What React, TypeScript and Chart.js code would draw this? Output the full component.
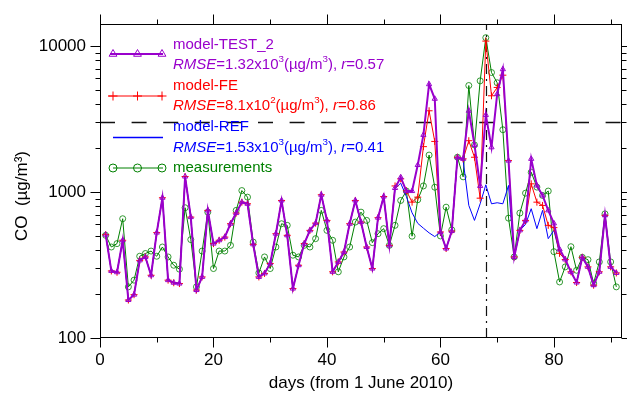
import React, { useEffect, useRef } from 'react';
import { Chart, registerables } from 'chart.js';

Chart.register(...registerables);

const days = [
  1, 2, 3, 4, 5, 6, 7, 8, 9, 10, 11, 12, 13, 14, 15, 16, 17, 18, 19, 20,
  21, 22, 23, 24, 25, 26, 27, 28, 29, 30, 31, 32, 33, 34, 35, 36, 37, 38, 39, 40,
  41, 42, 43, 44, 45, 46, 47, 48, 49, 50, 51, 52, 53, 54, 55, 56, 57, 58, 59, 60,
  61, 62, 63, 64, 65, 66, 67, 68, 69, 70, 71, 72, 73, 74, 75, 76, 77, 78, 79, 80,
  81, 82, 83, 84, 85, 86, 87, 88, 89, 90, 91,
];

const modelTest2 = [
  510, 288, 282, 467, 182, 198, 340, 359, 269, 527,
  913, 249, 239, 236, 1276, 673, 213, 262, 748, 443,
  467, 491, 606, 717, 852, 830, 438, 262, 277, 324,
  518, 875, 505, 218, 315, 443, 546, 612, 957, 639,
  284, 332, 388, 606, 875, 622, 420, 299, 667, 931,
  431, 1065, 1262, 1015, 1015, 1530, 2460, 5470, 4350, 532,
  410, 540, 1730, 1686, 3600, 2100, 1100, 3370, 2023, 4680,
  6930, 1640, 359, 546, 639, 1686, 1108, 947, 748, 610,
  405, 345, 284, 240, 357, 307, 230, 284, 692, 307,
  279,
];

const modelFE = [
  510, 288, 282, 467, 182, 198, 340, 359, 269, 527,
  913, 249, 239, 236, 1276, 673, 213, 262, 748, 443,
  467, 491, 606, 717, 852, 830, 438, 262, 277, 324,
  518, 875, 505, 218, 315, 443, 546, 612, 957, 639,
  284, 332, 388, 606, 875, 622, 420, 299, 667, 931,
  431, 1100, 1230, 1020, 852, 922, 2045, 3600, 2220, 532,
  410, 540, 1730, 1686, 2245, 1730, 907, 10800, 4560, 5200,
  6310, 1640, 359, 546, 639, 1137, 852, 809, 591, 570,
  380, 345, 284, 240, 357, 307, 230, 284, 692, 307,
  279,
];

const modelREF = [
  510, 288, 282, 467, 182, 198, 340, 359, 269, 527,
  913, 249, 239, 236, 1276, 673, 213, 262, 748, 443,
  467, 491, 606, 717, 852, 830, 438, 262, 277, 324,
  518, 875, 505, 218, 315, 443, 546, 612, 957, 639,
  284, 332, 388, 606, 875, 622, 420, 299, 667, 931,
  431, 1052, 1150, 930, 720, 610, 565, 525, 495, 532,
  410, 540, 1730, 1650, 809, 639, 830, 1120, 830, 844,
  830, 1108, 359, 546, 600, 768, 561, 748, 479, 546,
  379, 345, 284, 240, 357, 307, 230, 284, 692, 307,
  279,
];

const measurements = [
  505, 420, 443, 656, 224, 249, 363, 379, 394, 363,
  420, 359, 315, 296, 780, 472, 224, 394, 728, 299,
  394, 394, 431, 748, 1023, 922, 454, 279, 359, 299,
  420, 606, 591, 369, 359, 431, 420, 479, 748, 546,
  467, 284, 359, 420, 622, 728, 639, 450, 518, 561,
  431, 591, 875, 1015, 498, 885, 1100, 1790, 1078, 500,
  787, 550, 1730, 1270, 5360, 2100, 5770, 11400, 6580, 5600,
  2670, 662, 359, 717, 982, 1365, 1080, 947, 1015, 390,
  242, 307, 422, 291, 357, 344, 237, 332, 708, 332,
  224,
];

const xTickValues = [0, 20, 40, 60, 80];
const xMinorTickValues = [10, 30, 50, 70, 90];
const yTickValues = [100, 1000, 10000];
const yMinorMultipliers = [2, 3, 4, 5, 6, 7, 8, 9];
const thresholdValue = 3000;
const markerDay = 68;
const yAxisTitle = 'CO  (µg/m³)';
const xAxisTitle = 'days (from 1 June 2010)';

const PURPLE = '#9900CC';
const RED = '#FF0000';
const BLUE = '#0000FF';
const GREEN = '#008000';
const FONT = 'Arial, "Liberation Sans", sans-serif';

type Seg = { t: string; it?: boolean; sup?: boolean };

const legendEntries: { color: string; name: string; stats: Seg[]; marker: string }[] = [
  {
    color: PURPLE,
    name: 'model-TEST_2',
    marker: 'triangle',
    stats: [
      { t: 'RMSE', it: true }, { t: '=1.32x10' }, { t: '3', sup: true }, { t: '(µg/m' },
      { t: '3', sup: true }, { t: '), ' }, { t: 'r', it: true }, { t: '=0.57' },
    ],
  },
  {
    color: RED,
    name: 'model-FE',
    marker: 'cross',
    stats: [
      { t: 'RMSE', it: true }, { t: '=8.1x10' }, { t: '2', sup: true }, { t: '(µg/m' },
      { t: '3', sup: true }, { t: '), ' }, { t: 'r', it: true }, { t: '=0.86' },
    ],
  },
  {
    color: BLUE,
    name: 'model-REF',
    marker: 'none',
    stats: [
      { t: 'RMSE', it: true }, { t: '=1.53x10' }, { t: '3', sup: true }, { t: '(µg/m' },
      { t: '3', sup: true }, { t: '), ' }, { t: 'r', it: true }, { t: '=0.41' },
    ],
  },
  { color: GREEN, name: 'measurements', marker: 'circle', stats: [] },
];

function drawMarker(ctx: CanvasRenderingContext2D, kind: string, x: number, y: number, r: number) {
  ctx.beginPath();
  if (kind === 'triangle') {
    ctx.moveTo(x, y - r);
    ctx.lineTo(x + r * 0.866, y + r * 0.5);
    ctx.lineTo(x - r * 0.866, y + r * 0.5);
    ctx.closePath();
  } else if (kind === 'cross') {
    ctx.moveTo(x - r, y);
    ctx.lineTo(x + r, y);
    ctx.moveTo(x, y - r);
    ctx.lineTo(x, y + r);
  } else if (kind === 'circle') {
    ctx.arc(x, y, r, 0, Math.PI * 2);
  }
  ctx.stroke();
}

function drawRich(ctx: CanvasRenderingContext2D, segs: Seg[], x: number, y: number, size: number) {
  let cx = x;
  for (const s of segs) {
    const fs = s.sup ? size * 0.65 : size;
    ctx.font = `${s.it ? 'italic ' : ''}${fs}px ${FONT}`;
    const dy = s.sup ? -size * 0.35 : 0;
    ctx.fillText(s.t, cx, y + dy);
    cx += ctx.measureText(s.t).width;
  }
}

const decorPlugin = {
  id: 'decor',
  beforeDatasetsDraw(chart: any) {
    const { ctx, chartArea, scales } = chart;
    const { left, right, top, bottom } = chartArea;
    ctx.save();
    ctx.strokeStyle = '#111';
    ctx.lineWidth = 1.3;
    ctx.setLineDash([15, 16.6]);
    const yy = Math.round(scales.y.getPixelForValue(thresholdValue)) + 0.5;
    ctx.beginPath();
    ctx.moveTo(left, yy);
    ctx.lineTo(right, yy);
    ctx.stroke();
    ctx.setLineDash([10, 5, 2, 5]);
    ctx.lineWidth = 1.2;
    const xx = Math.round(scales.x.getPixelForValue(markerDay)) + 0.5;
    ctx.beginPath();
    ctx.moveTo(xx, bottom);
    ctx.lineTo(xx, top);
    ctx.stroke();
    ctx.restore();
  },
  afterDraw(chart: any) {
    const { ctx, chartArea, scales } = chart;
    const L = Math.round(chartArea.left) + 0.5;
    const R = Math.round(chartArea.right) - 0.5;
    const T = Math.round(chartArea.top) + 0.5;
    const B = Math.round(chartArea.bottom) - 0.5;
    ctx.save();
    ctx.strokeStyle = '#000';
    ctx.lineWidth = 1;
    ctx.setLineDash([]);
    ctx.strokeRect(L, T, R - L, B - T);
    ctx.beginPath();
    for (const dec of yTickValues) {
      const py = Math.round(scales.y.getPixelForValue(dec)) + 0.5;
      ctx.moveTo(L - 10, py); ctx.lineTo(L, py);
      ctx.moveTo(R, py); ctx.lineTo(R + 10, py);
      for (const m of yMinorMultipliers) {
        const v = dec * m;
        if (v > scales.y.max) continue;
        const p = Math.round(scales.y.getPixelForValue(v)) + 0.5;
        ctx.moveTo(L - 5, p); ctx.lineTo(L, p);
        ctx.moveTo(R, p); ctx.lineTo(R + 5, p);
      }
    }
    for (const v of xTickValues) {
      const px = Math.round(scales.x.getPixelForValue(v)) + 0.5;
      ctx.moveTo(px, B); ctx.lineTo(px, B + 10);
      ctx.moveTo(px, T); ctx.lineTo(px, T - 10);
    }
    for (const v of xMinorTickValues) {
      const px = Math.round(scales.x.getPixelForValue(v)) + 0.5;
      ctx.moveTo(px, B); ctx.lineTo(px, B + 5);
      ctx.moveTo(px, T); ctx.lineTo(px, T - 5);
    }
    ctx.stroke();

    // y axis title
    ctx.save();
    ctx.fillStyle = '#000';
    ctx.font = `17px ${FONT}`;
    ctx.textAlign = 'center';
    ctx.textBaseline = 'middle';
    ctx.translate(22, 196);
    ctx.rotate(-Math.PI / 2);
    ctx.fillText(yAxisTitle, 0, 0);
    ctx.restore();

    // legend
    const lineYs = [54, 96, 137.5, 168];
    const nameYs = [45, 86, 127, 168];
    const statYs = [65, 106, 148];
    const tx = 173;
    const size = 15;
    legendEntries.forEach((e, i) => {
      ctx.strokeStyle = e.color;
      ctx.fillStyle = e.color;
      ctx.lineWidth = i === 0 ? 2 : i === 2 ? 1.5 : 1;
      const ly = lineYs[i];
      const x0 = i === 1 ? 108 : i === 0 ? 110 : 113;
      ctx.beginPath();
      ctx.moveTo(x0, ly);
      ctx.lineTo(163, ly);
      ctx.stroke();
      ctx.lineWidth = 1;
      if (e.marker !== 'none') {
        for (const mx of [113, 137.5, 162]) drawMarker(ctx, e.marker, mx, ly, e.marker === 'circle' ? 4 : 4.5);
      }
      ctx.textBaseline = 'middle';
      ctx.textAlign = 'left';
      ctx.font = `${size}px ${FONT}`;
      ctx.fillText(e.name, tx, nameYs[i]);
      if (e.stats.length) drawRich(ctx, e.stats, tx, statYs[i], size);
    });
    ctx.restore();
  },
};

export default function App() {
  const ref = useRef<HTMLCanvasElement>(null);
  useEffect(() => {
    const mk = (vals: number[]) => days.map((d, i) => ({ x: d, y: vals[i] }));
    const chart = new Chart(ref.current as HTMLCanvasElement, {
      type: 'line',
      data: {
        datasets: [
          {
            label: 'model-TEST_2', data: mk(modelTest2), borderColor: PURPLE, borderWidth: 2,
            pointStyle: 'triangle', pointRadius: 3, pointBorderColor: PURPLE, pointBackgroundColor: 'rgba(0,0,0,0)',
            pointBorderWidth: 1, tension: 0, order: 0,
          },
          {
            label: 'model-FE', data: mk(modelFE), borderColor: RED, borderWidth: 1,
            pointStyle: 'cross', pointRadius: 3.5, pointBorderColor: RED, pointBorderWidth: 1, tension: 0, order: 1,
          },
          {
            label: 'model-REF', data: mk(modelREF), borderColor: BLUE, borderWidth: 1,
            pointRadius: 0, tension: 0, order: 2,
          },
          {
            label: 'measurements', data: mk(measurements), borderColor: GREEN, borderWidth: 1,
            pointStyle: 'circle', pointRadius: 3, pointBorderColor: GREEN, pointBackgroundColor: 'rgba(0,0,0,0)',
            pointBorderWidth: 0.8, tension: 0, order: 3,
          },
        ],
      },
      options: {
        responsive: false,
        animation: false,
        events: [],
        layout: { padding: { top: 22, right: 2, left: 0, bottom: 0 } },
        plugins: { legend: { display: false }, tooltip: { enabled: false } },
        scales: {
          x: {
            type: 'linear', min: 0, max: 92,
            afterBuildTicks: (s: any) => { s.ticks = xTickValues.map((v) => ({ value: v })); },
            afterFit: (s: any) => { s.height = 57; },
            grid: { display: false, drawTicks: false },
            border: { display: false },
            ticks: { font: { family: FONT, size: 17 }, color: '#000', padding: 12, maxRotation: 0, autoSkip: false },
            title: { display: true, text: xAxisTitle, font: { family: FONT, size: 17 }, color: '#000', padding: { top: 0, bottom: 1 } },
          },
          y: {
            type: 'logarithmic', min: 100, max: 14100,
            afterBuildTicks: (s: any) => { s.ticks = yTickValues.map((v) => ({ value: v })); },
            afterFit: (s: any) => { s.width = 100; },
            grid: { display: false, drawTicks: false },
            border: { display: false },
            ticks: { font: { family: FONT, size: 17 }, color: '#000', padding: 14, autoSkip: false, callback: (v: any) => String(v) },
          },
        },
      },
      plugins: [decorPlugin],
    } as any);
    return () => chart.destroy();
  }, []);
  return (
    <div style={{ position: 'absolute', left: 0, top: 0, width: 627, height: 395, background: '#fff' }}>
      <canvas ref={ref} width={627} height={395} style={{ display: 'block' }} />
    </div>
  );
}
